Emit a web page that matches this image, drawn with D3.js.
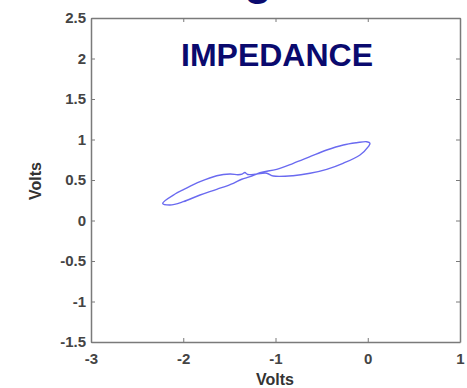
<!DOCTYPE html>
<html>
<head>
<meta charset="utf-8">
<script src="https://cdn.jsdelivr.net/npm/d3@7"></script>
<style>
  html, body { margin: 0; padding: 0; background: #fff; }
  svg { display: block; }
  text { font-family: "Liberation Sans", Arial, sans-serif; }
</style>
</head>
<body>
<svg id="chart" width="467" height="388"></svg>
<script>
// Current (x) vs voltage (y) trace, in volts
const traceX = [-2.223, -2.089, -2.003, -1.818, -1.637, -1.493, -1.407, -1.362, -1.332, -1.302, -1.204, -1.095,
                -1.024, -0.810, -0.626, -0.445, -0.268, -0.084, 0.006, 0.024, -0.011, -0.120, -0.265, -0.445,
                -0.626, -0.807, -0.987, -1.168, -1.276, -1.366, -1.457, -1.637, -1.818, -2.000, -2.144];
const traceY = [0.212, 0.327, 0.377, 0.479, 0.553, 0.574, 0.565, 0.572, 0.592, 0.568, 0.574, 0.583,
                0.549, 0.553, 0.583, 0.632, 0.706, 0.809, 0.911, 0.953, 0.973, 0.960, 0.932, 0.870,
                0.788, 0.706, 0.632, 0.590, 0.541, 0.509, 0.459, 0.385, 0.315, 0.232, 0.191];

const xTicks = [-3, -2, -1, 0, 1];
const yTicks = [-1.5, -1, -0.5, 0, 0.5, 1, 1.5, 2, 2.5];
const titleText = "IMPEDANCE";
const xLabel = "Volts";
const yLabel = "Volts";

const svg = d3.select("#chart");
const plotLeft = 91, plotRight = 460, plotTop = 18, plotBottom = 342;

const x = d3.scaleLinear().domain([-3, 1]).range([plotLeft, plotRight]);
const y = d3.scaleLinear().domain([-1.5, 2.5]).range([plotBottom, plotTop]);

// Clipped heading fragment above the axes
svg.append("text")
  .attr("x", 258).attr("y", -6)
  .attr("text-anchor", "middle")
  .attr("font-size", 46).attr("font-weight", "bold")
  .attr("fill", "#0a0a6e")
  .text("g");

const frameColor = "#7a7a7a";
const tickLen = 4;

// Axes: ticks point inward on all four sides, labels on left and bottom
const fmt = d => String(d);
svg.append("g").attr("transform", `translate(0,${plotBottom})`)
  .call(d3.axisBottom(x).tickValues(xTicks).tickSizeInner(-tickLen).tickSizeOuter(0).tickPadding(11).tickFormat(fmt));
svg.append("g").attr("transform", `translate(0,${plotTop})`)
  .call(d3.axisTop(x).tickValues(xTicks).tickSizeInner(-tickLen).tickSizeOuter(0).tickFormat(""));
svg.append("g").attr("transform", `translate(${plotLeft},0)`)
  .call(d3.axisLeft(y).tickValues(yTicks).tickSizeInner(-tickLen).tickSizeOuter(0).tickPadding(5).tickFormat(fmt));
svg.append("g").attr("transform", `translate(${plotRight},0)`)
  .call(d3.axisRight(y).tickValues(yTicks).tickSizeInner(-tickLen).tickSizeOuter(0).tickFormat(""));

svg.selectAll(".domain").attr("stroke", frameColor).attr("stroke-width", 1.5);
svg.selectAll(".tick line").attr("stroke", frameColor).attr("stroke-width", 1);
svg.selectAll(".tick text")
  .attr("font-family", "'Liberation Sans', Arial, sans-serif")
  .attr("font-size", 15).attr("font-weight", "bold").attr("fill", "#444");

// Axis titles
svg.append("text")
  .attr("x", 275).attr("y", 385)
  .attr("text-anchor", "middle")
  .attr("font-size", 16).attr("font-weight", "bold").attr("fill", "#333")
  .text(xLabel);
svg.append("text")
  .attr("transform", "translate(41,181) rotate(-90)")
  .attr("text-anchor", "middle")
  .attr("font-size", 16).attr("font-weight", "bold").attr("fill", "#333")
  .text(yLabel);

// Plot heading
svg.append("text")
  .attr("x", 277).attr("y", 66)
  .attr("text-anchor", "middle")
  .attr("font-size", 32).attr("font-weight", "bold")
  .attr("fill", "#0a0a6e")
  .text(titleText);

// Trace
const pts = traceX.map((v, i) => [v, traceY[i]]);
svg.append("path")
  .datum(pts)
  .attr("fill", "none")
  .attr("stroke", "#6a6af0")
  .attr("stroke-width", 1.4)
  .attr("d", d3.line().x(d => x(d[0])).y(d => y(d[1])).curve(d3.curveCatmullRomClosed.alpha(0.5)));
</script>
</body>
</html>
